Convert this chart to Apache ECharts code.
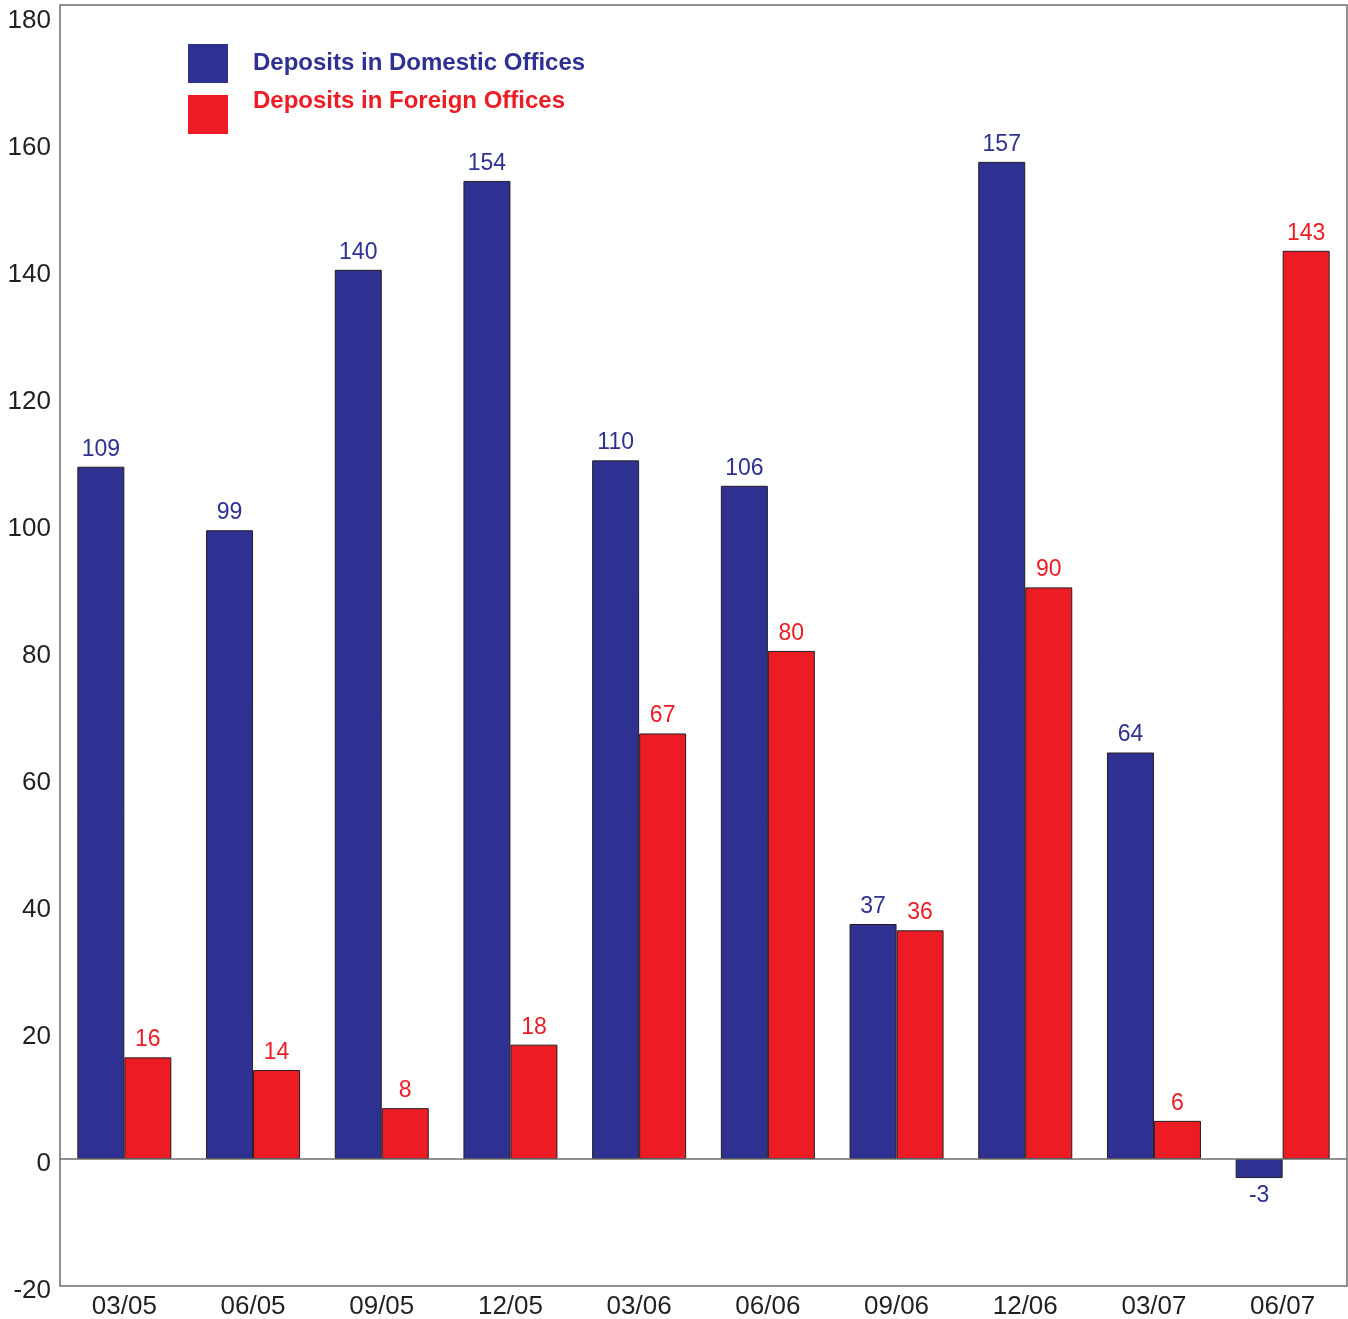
<!DOCTYPE html>
<html><head><meta charset="utf-8">
<script src="https://cdn.jsdelivr.net/npm/echarts@6/dist/echarts.min.js"></script>
<style>html,body{margin:0;padding:0;background:#fff}#c{width:1348px;height:1319px}</style>
</head><body><div id="c"></div>
<script>
const categories = ['03/05','06/05','09/05','12/05','03/06','06/06','09/06','12/06','03/07','06/07'];
const seriesNames = ['Deposits in Domestic Offices', 'Deposits in Foreign Offices'];
const domestic = [109, 99, 140, 154, 110, 106, 37, 157, 64, -3];
const foreign = [16, 14, 8, 18, 67, 80, 36, 90, 6, 143];
const yTicks = {min: -20, max: 181.7, interval: 20};

const BLUE = '#2E3192', RED = '#ED1C24', TXT = '#231F20', FONT = '"Liberation Sans", Arial, sans-serif';
function mk(vals){
  return vals.map(v => ({value: v, label: {position: v < 0 ? 'bottom' : 'top'}}));
}
const chart = echarts.init(document.getElementById('c'));
chart.setOption({
  animation: false,
  textStyle: {fontFamily: FONT},
  grid: {left: 60, right: 1, top: 5, bottom: 33, show: true, borderColor: '#6d6d6d', borderWidth: 1.5, outerBoundsMode: 'none', containLabel: false},
  legend: {show: false, data: seriesNames},
  graphic: [
    {type: 'rect', left: 188, top: 44, shape: {width: 40, height: 39}, style: {fill: BLUE}},
    {type: 'rect', left: 188, top: 95, shape: {width: 40, height: 39}, style: {fill: RED}},
    {type: 'text', left: 253, top: 51, style: {text: seriesNames[0], fill: BLUE, font: 'bold 24px ' + FONT}},
    {type: 'text', left: 253, top: 89, style: {text: seriesNames[1], fill: RED, font: 'bold 24px ' + FONT}}
  ],
  xAxis: {
    type: 'category', data: categories,
    axisLine: {show: false}, axisTick: {show: false},
    axisLabel: {fontSize: 26, color: TXT, margin: 8}
  },
  yAxis: {
    type: 'value', min: yTicks.min, max: yTicks.max, interval: yTicks.interval,
    splitLine: {show: false}, axisTick: {show: false}, axisLine: {show: false},
    axisLabel: {color: TXT, margin: 9,
      formatter: v => (Math.abs(v % 20) < 1e-6 ? '{a|' + v + '}' : ''),
      rich: {a: {fontSize: 26, color: TXT, fontFamily: FONT, padding: [10, 0, 0, 0]}}}
  },
  series: [
    {name: seriesNames[0], type: 'bar', data: mk(domestic), barWidth: 47, barGap: '0%',
     itemStyle: {color: BLUE, borderColor: TXT, borderWidth: 1},
     label: {show: true, color: BLUE, fontSize: 23, distance: 6},
     markLine: {silent: true, symbol: 'none', label: {show: false}, lineStyle: {color: '#6d6d6d', type: 'solid', width: 1.5}, data: [{yAxis: 0}]}
    },
    {name: seriesNames[1], type: 'bar', data: mk(foreign), barWidth: 47,
     itemStyle: {color: RED, borderColor: TXT, borderWidth: 1},
     label: {show: true, color: RED, fontSize: 23, distance: 6}}
  ]
});
</script></body></html>
